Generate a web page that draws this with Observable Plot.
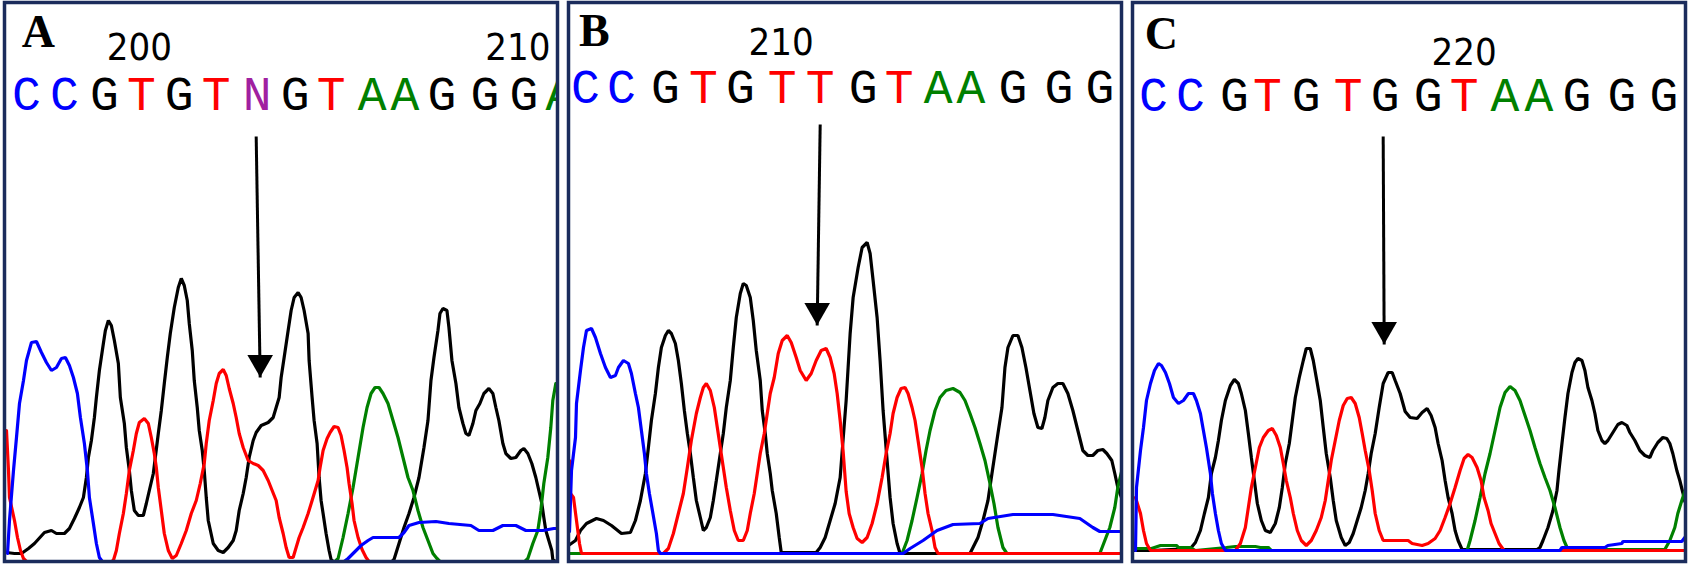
<!DOCTYPE html>
<html><head><meta charset="utf-8">
<script src="https://cdn.jsdelivr.net/npm/d3@7"></script>
<script src="https://cdn.jsdelivr.net/npm/@observablehq/plot@0.6"></script>
<style>html,body{margin:0;padding:0;background:#fff;} #chart{width:1689px;height:564px;}</style>
</head><body><div id="chart"></div>
<script>
const panels = ["A", "B", "C"];

// ---- Panel A traces: [scan position, signal] ----
const A_G = [[2,9],[10,8],[17,8],[24,13],[30,18],[40,29],[47,31],[52,28],[60,28],[65,33],[70,43],[75,54],[79,64],[82,84],[84,104],[87,121],[90,144],[92,164],[95,191],[99,218],[101,231],[104,241],[107,236],[110,221],[114,198],[116,164],[120,138],[122,114],[125,91],[127,71],[130,51],[134,46],[139,46],[142,58],[145,71],[149,88],[151,104],[154,128],[157,151],[160,178],[163,204],[166,228],[170,254],[174,274],[177,283],[180,276],[183,261],[185,238],[188,211],[190,181],[193,154],[195,131],[198,111],[200,91],[202,64],[204,41],[209,18],[214,11],[219,9],[224,14],[229,21],[232,31],[235,51],[239,68],[242,84],[245,104],[249,121],[252,129],[257,136],[264,139],[269,144],[272,154],[275,164],[277,184],[280,204],[284,231],[287,251],[290,264],[294,269],[297,264],[300,251],[304,228],[305,201],[308,164],[310,141],[313,118],[315,84],[317,61],[319,48],[322,28],[325,11],[327,2],[329,0],[388,0],[390,2],[395,18],[400,34],[405,48],[410,64],[415,84],[420,114],[424,141],[427,181],[430,204],[434,231],[436,248],[439,253],[443,251],[445,234],[448,201],[452,178],[455,154],[459,138],[462,128],[465,126],[469,138],[472,151],[476,158],[480,168],[485,173],[489,168],[492,154],[495,141],[499,118],[502,108],[507,103],[512,104],[517,111],[520,113],[524,108],[528,98],[532,84],[535,71],[538,58],[540,44],[542,31],[545,21],[548,11],[549,2],[552,0]];
const A_A = [[0,0],[331,0],[334,3],[339,24],[344,48],[349,74],[354,104],[359,134],[363,154],[367,168],[371,174],[375,174],[379,168],[384,158],[389,141],[394,124],[399,104],[404,84],[409,71],[414,51],[419,34],[424,21],[429,8],[433,3],[436,0],[521,0],[524,3],[529,18],[534,31],[537,51],[540,78],[544,104],[547,134],[549,161],[552,178]];
const A_T = [[2,131],[4,91],[5,64],[10,41],[13,24],[16,11],[19,3],[22,0],[107,0],[109,1],[112,11],[115,28],[119,48],[122,68],[125,91],[129,111],[132,128],[135,139],[140,143],[144,138],[147,124],[150,108],[152,94],[154,74],[157,51],[160,28],[164,11],[168,3],[172,6],[177,18],[182,31],[187,48],[192,61],[196,78],[200,98],[202,118],[205,141],[209,161],[212,178],[215,188],[219,192],[222,186],[225,173],[229,158],[232,144],[235,128],[239,114],[244,101],[249,98],[254,96],[259,91],[264,81],[272,61],[275,44],[279,28],[282,14],[285,4],[289,4],[292,14],[295,24],[299,34],[304,48],[308,61],[311,71],[314,81],[316,94],[319,111],[323,123],[326,129],[330,135],[334,134],[337,126],[340,111],[343,94],[345,78],[348,58],[350,41],[354,24],[358,12],[362,4],[365,0],[556,0]];
const A_C = [[3,8],[5,41],[9,91],[12,124],[15,158],[19,181],[22,201],[27,219],[32,220],[37,209],[42,199],[47,191],[52,194],[57,203],[61,204],[65,196],[69,184],[73,168],[76,144],[80,118],[83,91],[85,64],[89,38],[92,18],[95,4],[98,0],[340,0],[344,3],[350,9],[357,16],[364,21],[369,24],[395,24],[400,29],[405,36],[415,39],[432,40],[445,38],[467,36],[475,31],[489,31],[499,36],[512,36],[522,31],[539,31],[550,33],[556,33]];

// ---- Panel B traces ----
const B_G = [[0,16],[7,21],[12,31],[18,38],[28,43],[35,41],[43,36],[53,28],[62,29],[67,41],[72,61],[77,88],[80,114],[83,141],[87,168],[90,194],[93,214],[97,226],[100,231],[103,228],[107,218],[110,201],[113,178],[116,151],[119,128],[122,108],[125,84],[128,61],[132,44],[135,31],[138,34],[142,44],[145,61],[148,81],[152,108],[155,128],[158,154],[162,181],[165,214],[168,244],[172,268],[175,278],[178,276],[182,264],[185,241],[188,211],[192,181],[194,151],[197,128],[199,108],[202,88],[204,71],[208,48],[211,24],[213,9],[248,9],[252,14],[257,24],[262,41],[267,58],[272,84],[278,161],[282,228],[285,264],[290,294],[294,314],[299,319],[302,308],[305,281],[309,244],[312,201],[315,151],[319,101],[322,64],[325,38],[329,18],[332,8],[402,8],[405,14],[410,24],[415,41],[420,61],[424,88],[427,108],[430,128],[434,154],[437,194],[440,214],[445,226],[450,226],[454,214],[458,194],[462,171],[466,148],[470,134],[474,133],[477,144],[480,161],[485,174],[490,178],[495,178],[500,168],[505,151],[510,131],[515,111],[520,106],[525,106],[530,111],[535,112],[539,108],[544,101],[547,88],[550,74],[554,63],[556,56]];
const B_A = [[0,8],[334,8],[339,21],[344,41],[349,64],[354,88],[358,111],[362,131],[367,151],[372,164],[378,171],[385,173],[392,169],[397,161],[402,148],[407,134],[412,118],[417,101],[422,78],[426,58],[430,34],[435,14],[439,8],[532,8],[537,21],[542,34],[547,54],[550,74],[554,91],[556,100]];
const B_T = [[1,101],[2,68],[5,64],[8,41],[11,18],[13,8],[95,8],[100,13],[105,28],[110,48],[115,68],[119,94],[123,121],[128,148],[132,164],[135,174],[138,178],[142,171],[146,154],[149,134],[152,114],[155,94],[158,74],[162,51],[166,31],[170,21],[175,21],[179,31],[182,48],[186,68],[189,88],[192,108],[196,128],[199,148],[202,168],[206,184],[210,208],[214,221],[219,226],[223,219],[228,204],[232,191],[238,181],[243,188],[248,201],[253,211],[258,213],[262,204],[266,188],[269,168],[272,141],[275,110],[278,70],[281,48],[285,34],[289,23],[294,19],[299,24],[304,38],[309,58],[314,84],[318,108],[322,128],[325,148],[329,164],[333,173],[337,174],[340,168],[344,154],[347,141],[350,121],[354,94],[357,68],[360,48],[364,31],[367,14],[370,8],[556,8]];
const B_C = [[1,30],[3,91],[7,124],[8,158],[12,191],[15,214],[18,231],[23,233],[27,224],[32,208],[37,194],[42,184],[47,186],[50,194],[55,201],[60,198],[63,188],[67,168],[70,154],[73,131],[76,108],[78,88],[81,68],[84,51],[88,28],[90,11],[92,8],[335,8],[342,13],[355,21],[369,31],[385,37],[412,38],[420,43],[445,47],[485,47],[512,43],[525,34],[532,30],[556,30]];

// ---- Panel C traces ----
const C_G = [[2,11],[19,11],[58,13],[63,19],[68,31],[72,48],[76,64],[79,88],[83,104],[86,121],[89,141],[93,161],[98,176],[102,182],[106,178],[109,168],[113,151],[116,128],[119,104],[122,81],[125,58],[129,41],[133,31],[138,29],[143,38],[147,54],[150,74],[153,98],[157,118],[160,141],[163,164],[167,184],[171,201],[174,213],[178,213],[181,201],[184,184],[188,161],[191,134],[194,108],[198,84],[201,61],[204,41],[209,24],[213,16],[217,19],[221,28],[225,41],[229,54],[233,71],[236,88],[239,108],[243,128],[247,154],[251,178],[256,189],[260,189],[263,181],[268,168],[273,150],[278,144],[285,143],[290,149],[295,153],[299,146],[303,134],[306,118],[310,101],[313,81],[316,64],[320,48],[323,31],[326,21],[330,12],[405,12],[408,14],[411,21],[416,34],[421,51],[425,71],[427,91],[430,118],[433,144],[436,168],[440,189],[443,199],[446,203],[450,201],[453,191],[456,174],[460,161],[463,148],[466,131],[470,121],[473,118],[476,121],[481,129],[486,137],[490,139],[495,136],[498,129],[503,121],[508,111],[513,106],[518,104],[521,111],[526,119],[531,124],[535,123],[538,118],[541,108],[545,91],[548,81],[551,69],[553,60]];
const C_A = [[3,13],[19,13],[28,16],[44,16],[46,14],[58,14],[63,11],[94,14],[103,15],[123,15],[128,14],[136,14],[139,11],[335,11],[338,21],[343,41],[348,64],[353,88],[358,108],[363,131],[368,154],[373,169],[378,175],[383,171],[388,161],[393,146],[398,131],[403,114],[408,98],[413,84],[418,71],[423,54],[428,34],[432,21],[436,12],[533,12],[538,21],[543,34],[546,48],[550,61],[553,70]];
const C_T = [[3,64],[8,48],[11,31],[14,18],[18,11],[103,11],[108,18],[113,34],[116,54],[119,74],[123,94],[127,114],[131,124],[136,131],[140,133],[144,126],[148,114],[151,98],[154,81],[158,64],[161,48],[165,31],[169,21],[174,16],[179,21],[184,31],[189,44],[193,61],[196,81],[199,101],[203,121],[207,141],[211,156],[215,163],[219,164],[223,158],[227,144],[230,128],[233,111],[237,91],[240,71],[243,48],[247,31],[251,21],[263,21],[276,21],[280,18],[290,16],[296,18],[303,23],[308,31],[313,44],[318,58],[323,74],[328,91],[332,103],[336,107],[340,104],[345,94],[349,81],[352,64],[356,51],[359,38],[363,28],[367,18],[372,11],[553,11]];
const C_C = [[3,11],[4,74],[8,111],[11,134],[14,161],[18,178],[22,191],[26,198],[29,196],[33,189],[37,178],[41,164],[46,158],[51,161],[56,168],[61,168],[64,161],[68,148],[71,131],[74,114],[78,88],[80,68],[83,48],[86,31],[89,18],[93,11],[428,11],[430,14],[473,14],[476,16],[490,18],[491,20],[550,20],[553,24]];

// ---- Base calls ----
const A_calls = ["C","C","G","T","G","T","N","G","T","A","A","G","G","G","A"];
const A_callPos = [22,60,100,137,175,212,253,291,327,368,401,438,481,520,556];
const B_calls = ["C","C","G","T","G","T","T","G","T","A","A","G","G","G"];
const B_callPos = [17,53,97,135,172,214,252,295,331,370,403,445,491,532];
const C_calls = ["C","C","G","T","G","T","G","G","T","A","A","G","G","G"];
const C_callPos = [21,58,102,135,174,216,253,296,332,373,407,445,490,532];

// ---- Sequence position labels ----
const tickPanel = ["A", "A", "B", "C"];
const tickLabel = ["200", "210", "210", "220"];
const tickPos = [135, 514, 213, 332];

// ---- Mutation arrows (scan position, signal) ----
const arrowPanel = ["A", "B", "C"];
const arrowX1 = [252, 252, 251];
const arrowY1 = [425, 437, 425];
const arrowX2 = [256, 249, 252];
const arrowY2 = [184, 236, 217];

// ---------- build tables ----------
const traceSets = {A: {G: A_G, A: A_A, T: A_T, C: A_C}, B: {G: B_G, A: B_A, T: B_T, C: B_C}, C: {G: C_G, A: C_A, T: C_T, C: C_C}};
const traces = [];
for (const p of panels) for (const b of ["G","A","T","C"]) for (const [x, y] of traceSets[p][b]) traces.push({panel: p, base: b, x, y});

const calls = [];
[["A", A_calls, A_callPos], ["B", B_calls, B_callPos], ["C", C_calls, C_callPos]].forEach(([p, cs, xs]) => cs.forEach((c, i) => calls.push({panel: p, base: c, x: xs[i]})));
const ticks = tickPanel.map((p, i) => ({panel: p, label: tickLabel[i], x: tickPos[i]}));
const arrows = arrowPanel.map((p, i) => ({panel: p, x1: arrowX1[i], y1: arrowY1[i], x2: arrowX2[i], y2: arrowY2[i]}));
const panelLabels = panels.map(p => ({panel: p}));

const baseColor = {C: "#0000ff", G: "#000000", T: "#ff0000", A: "#008000", N: "#a020a0"};
const rowY = {A: 467, B: 474, C: 466};
const tickY = {A: 514, B: 519, C: 509};
const labelXY = {A: [34, 529], B: [26, 530], C: [29, 527]};

const traceMark = (b) => Plot.line(traces.filter(d => d.base === b), {x: "x", y: "y", fx: "panel", stroke: baseColor[b], strokeWidth: 3.2, strokeLinejoin: "miter", clip: true});

const chart = Plot.plot({
  width: 1689, height: 564,
  marginTop: 2, marginBottom: 3, marginLeft: 3, marginRight: 3,
  fx: {domain: panels, axis: null, paddingInner: 0.0195, paddingOuter: 0},
  x: {domain: [0, 553.7], axis: null},
  y: {domain: [0, 559], axis: null},
  style: {background: "#ffffff"},
  marks: [
    traceMark("G"), traceMark("A"), traceMark("T"), traceMark("C"),
    Plot.text(calls, {x: "x", y: d => rowY[d.panel], fx: "panel", text: "base", fill: d => baseColor[d.base],
      fontFamily: "'Liberation Mono', 'DejaVu Sans Mono', monospace", fontSize: 48, clip: true}),
    Plot.text(ticks, {x: "x", y: d => tickY[d.panel], fx: "panel", text: "label", fill: "black",
      fontFamily: "'Liberation Sans Narrow', 'DejaVu Sans Condensed', 'Liberation Sans', sans-serif", fontSize: 38}),
    Plot.text(panelLabels, {x: d => labelXY[d.panel][0], y: d => labelXY[d.panel][1], fx: "panel", text: "panel", fill: "black",
      fontFamily: "'Liberation Serif', 'DejaVu Serif', serif", fontWeight: "bold", fontSize: 46}),
    Plot.link(arrows, {x1: "x1", y1: "y1", x2: "x2", y2: "y2", fx: "panel", stroke: "black", strokeWidth: 3}),
    Plot.dot(arrows, {x: "x2", y: "y2", fx: "panel", symbol: "triangle", r: 9.5, rotate: 180, fill: "black", stroke: "none", dy: -15}),
    Plot.frame({stroke: "#1b2c5c", strokeWidth: 3.5})
  ]
});
document.getElementById("chart").appendChild(chart);
</script>
</body></html>
